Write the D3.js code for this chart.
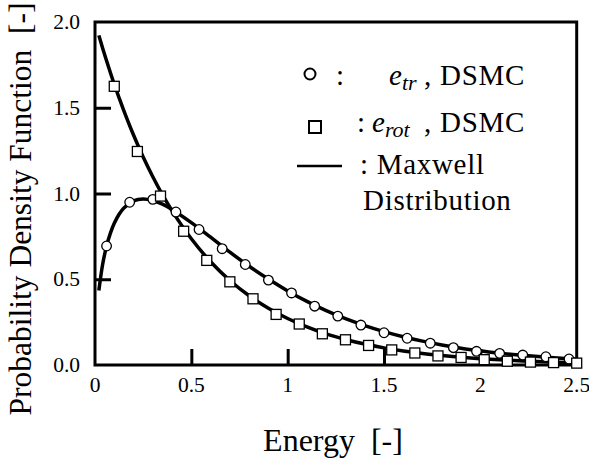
<!DOCTYPE html>
<html>
<head>
<meta charset="utf-8">
<script src="https://cdn.jsdelivr.net/npm/d3@7"></script>
<style>
  html, body { margin: 0; padding: 0; background: #fff; }
  svg text { font-family: "Liberation Serif", "Times New Roman", serif; fill: #000; }
</style>
</head>
<body>
<svg id="chart" width="589" height="464"></svg>
<script>
// ---------------- data ----------------
const xTicks = [0, 0.5, 1, 1.5, 2, 2.5];
const xTickLabels = ["0", "0.5", "1", "1.5", "2", "2.5"];
const yTicks = [0, 0.5, 1.0, 1.5, 2.0];
const yTickLabels = ["0.0", "0.5", "1.0", "1.5", "2.0"];

// DSMC translational energy (circles)
const trEnergy = [0.06, 0.18, 0.30, 0.42, 0.54, 0.66, 0.78, 0.90, 1.02, 1.14, 1.26,
                  1.38, 1.50, 1.62, 1.74, 1.86, 1.98, 2.10, 2.22, 2.34, 2.46];
const trValues = [0.694, 0.949, 0.966, 0.892, 0.790, 0.678, 0.586, 0.495, 0.420, 0.343, 0.285,
                  0.233, 0.188, 0.156, 0.127, 0.101, 0.080, 0.068, 0.058, 0.048, 0.035];

// DSMC rotational energy (squares)
const rotEnergy = [0.10, 0.22, 0.34, 0.46, 0.58, 0.70, 0.82, 0.94, 1.06, 1.18, 1.30,
                   1.42, 1.54, 1.66, 1.78, 1.90, 2.02, 2.14, 2.26, 2.38, 2.50];
const rotValues = [1.625, 1.245, 0.985, 0.780, 0.610, 0.485, 0.386, 0.295, 0.239, 0.182, 0.147,
                   0.114, 0.088, 0.070, 0.053, 0.044, 0.031, 0.022, 0.017, 0.014, 0.011];

// Maxwell distribution curves (solid lines)
const curveEnergy = [0.02, 0.04, 0.06, 0.08, 0.10, 0.125, 0.15, 0.20, 0.25, 0.30, 0.35, 0.40,
                     0.50, 0.60, 0.70, 0.80, 0.90, 1.00, 1.10, 1.20, 1.30, 1.40, 1.50, 1.60,
                     1.70, 1.80, 1.90, 2.00, 2.10, 2.20, 2.30, 2.40, 2.50];
const curveTr = [0.434, 0.589, 0.693, 0.769, 0.826, 0.879, 0.916, 0.957, 0.968, 0.959, 0.938, 0.907,
                 0.830, 0.745, 0.658, 0.576, 0.501, 0.432, 0.371, 0.317, 0.270, 0.230, 0.195, 0.165,
                 0.139, 0.117, 0.098, 0.083, 0.069, 0.058, 0.049, 0.041, 0.034];
const curveRot = [1.922, 1.846, 1.774, 1.704, 1.637, 1.558, 1.482, 1.341, 1.213, 1.098, 0.993, 0.899,
                  0.736, 0.602, 0.493, 0.404, 0.331, 0.271, 0.222, 0.181, 0.149, 0.122, 0.100, 0.082,
                  0.067, 0.055, 0.045, 0.037, 0.030, 0.025, 0.020, 0.016, 0.013];

// ---------------- chart ----------------
const svg = d3.select("#chart");
const L = 95, T = 22, R = 576.7, B = 365;

const x = d3.scaleLinear().domain([0, 2.5]).range([L, R]);
const y = d3.scaleLinear().domain([0, 2.0]).range([B, T]);

// frame
svg.append("rect")
  .attr("x", L).attr("y", T).attr("width", R - L).attr("height", B - T)
  .attr("fill", "none").attr("stroke", "#000").attr("stroke-width", 3);

// inward ticks (bottom)
const xAxis = d3.axisBottom(x).tickValues(xTicks.slice(1, -1)).tickSizeInner(-16).tickSizeOuter(0).tickFormat("");
const gx = svg.append("g").attr("transform", `translate(0,${B})`).call(xAxis);
gx.select(".domain").remove();
gx.selectAll(".tick line").attr("stroke", "#000").attr("stroke-width", 3);

// inward ticks (left)
const yAxis = d3.axisLeft(y).tickValues(yTicks.slice(1, -1)).tickSizeInner(-16).tickSizeOuter(0).tickFormat("");
const gy = svg.append("g").attr("transform", `translate(${L},0)`).call(yAxis);
gy.select(".domain").remove();
gy.selectAll(".tick line").attr("stroke", "#000").attr("stroke-width", 3);

// tick labels
svg.append("g").selectAll("text").data(xTicks).join("text")
  .attr("x", d => x(d)).attr("y", 392)
  .attr("text-anchor", "middle").attr("font-size", 21.5)
  .text((d, i) => xTickLabels[i]);

svg.append("g").selectAll("text").data(yTicks).join("text")
  .attr("x", 80).attr("y", d => y(d) + 7)
  .attr("text-anchor", "end").attr("font-size", 21.5)
  .text((d, i) => yTickLabels[i]);

// axis titles
svg.append("text")
  .attr("x", 333).attr("y", 451)
  .attr("text-anchor", "middle").attr("font-size", 32)
  .attr("xml:space", "preserve")
  .text("Energy  [-]");

svg.append("text")
  .attr("transform", "translate(31,209) rotate(-90)")
  .attr("text-anchor", "middle").attr("font-size", 31.5)
  .attr("xml:space", "preserve")
  .text("Probability Density Function  [-]");

// curves
const line = d3.line().x(d => x(d[0])).y(d => y(d[1])).curve(d3.curveCatmullRom.alpha(0.5));
svg.append("path")
  .datum(curveEnergy.map((e, i) => [e, curveTr[i]]))
  .attr("d", line).attr("fill", "none").attr("stroke", "#000").attr("stroke-width", 3.5);
svg.append("path")
  .datum(curveEnergy.map((e, i) => [e, curveRot[i]]))
  .attr("d", line).attr("fill", "none").attr("stroke", "#000").attr("stroke-width", 3.5);

// markers
svg.append("g").selectAll("circle").data(trEnergy).join("circle")
  .attr("cx", d => x(d)).attr("cy", (d, i) => y(trValues[i])).attr("r", 4.8)
  .attr("fill", "#fff").attr("stroke", "#000").attr("stroke-width", 1.3);

const sq = 10;
svg.append("g").selectAll("rect").data(rotEnergy).join("rect")
  .attr("x", d => x(d) - sq / 2).attr("y", (d, i) => y(rotValues[i]) - sq / 2)
  .attr("width", sq).attr("height", sq)
  .attr("fill", "#fff").attr("stroke", "#000").attr("stroke-width", 1.3);

// legend
const lg = svg.append("g").attr("font-size", 29);
const lsp = 0.7;
lg.append("circle").attr("cx", 310).attr("cy", 74).attr("r", 5.5)
  .attr("fill", "#fff").attr("stroke", "#000").attr("stroke-width", 2);
lg.append("text").attr("x", 336).attr("y", 85).text(":");
const t1 = lg.append("text").attr("x", 389).attr("y", 85);
t1.append("tspan").attr("font-style", "italic").text("e");
t1.append("tspan").attr("font-style", "italic").attr("font-size", 22).attr("dy", 5).text("tr");
lg.append("text").attr("x", 525).attr("y", 85).attr("text-anchor", "end")
  .attr("letter-spacing", lsp).text(", DSMC");

lg.append("rect").attr("x", 309).attr("y", 121).attr("width", 12).attr("height", 12)
  .attr("fill", "#fff").attr("stroke", "#000").attr("stroke-width", 2);
lg.append("text").attr("x", 357).attr("y", 132).text(":");
const t2 = lg.append("text").attr("x", 372).attr("y", 132);
t2.append("tspan").attr("font-style", "italic").text("e");
t2.append("tspan").attr("font-style", "italic").attr("font-size", 22).attr("dy", 5).text("rot");
lg.append("text").attr("x", 525).attr("y", 132).attr("text-anchor", "end")
  .attr("letter-spacing", lsp).text(", DSMC");

lg.append("line").attr("x1", 297).attr("x2", 342).attr("y1", 166).attr("y2", 166)
  .attr("stroke", "#000").attr("stroke-width", 2.5);
lg.append("text").attr("x", 360).attr("y", 174).attr("letter-spacing", lsp).text(": Maxwell");
lg.append("text").attr("x", 363).attr("y", 210).attr("letter-spacing", lsp).text("Distribution");
</script>
</body>
</html>
